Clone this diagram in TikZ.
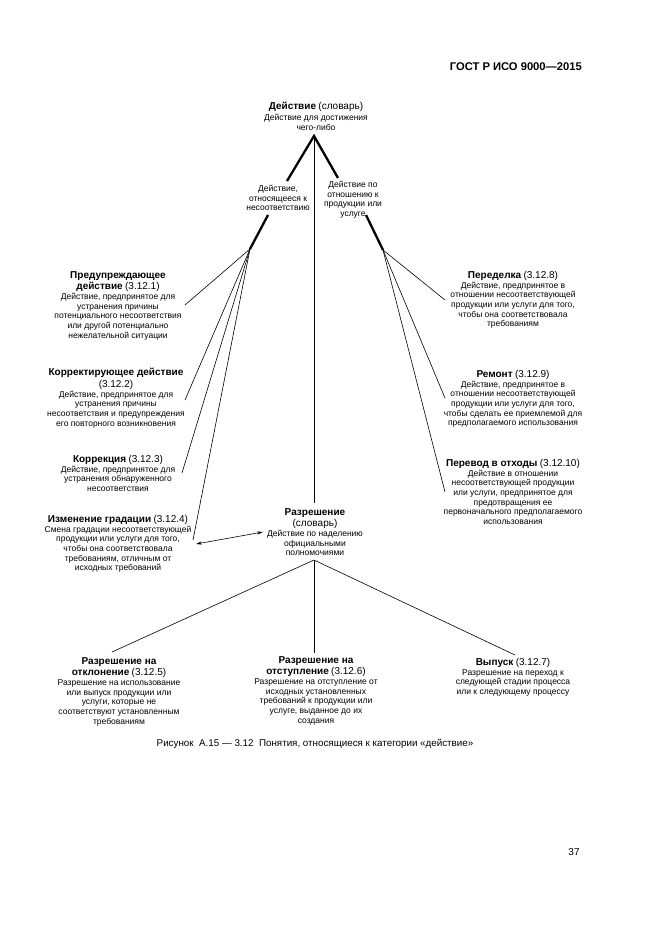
\documentclass[tikz,border=0pt]{standalone}
\usepackage{fontspec}
\setmainfont{Liberation Sans}
\usetikzlibrary{arrows.meta}
\newcommand\tb[1]{{\fontsize{10}{10}\selectfont\bfseries #1}}
\newcommand\tn[1]{{\fontsize{10}{10}\selectfont #1}}
\begin{document}
\begin{tikzpicture}[x=1pt,y=-1pt,
  txt/.style={align=center,inner sep=0pt,anchor=north,font=\fontsize{8.5}{9.7}\selectfont},
  thick line/.style={line width=2.3pt},
  thin line/.style={line width=0.6pt},
  tip/.style={-{Stealth[length=6pt,width=3.2pt]}}]
\useasboundingbox (0,0) rectangle (661,935);
\fill[white] (0,0) rectangle (661,935);
% header
\node[anchor=east,inner sep=0pt,font=\fontsize{11.2}{12}\selectfont\bfseries] (hdr) at (582,67) {ГОСТ Р ИСО 9000—2015};
% top
\node[txt] (de) at (316,102) {\tb{Действие} \tn{(словарь)}\\[1pt] Действие для достижения\\ чего-либо};
\node[txt] (ml) at (278,185) {Действие,\\ относящееся к\\ несоответствию};
\node[txt] (mr) at (353,181) {Действие по\\ отношению к\\ продукции или\\ услуге};
% left column
\node[txt] (pr) at (118,271) {\tb{Предупреждающее}\\[2pt] \tb{действие} \tn{(3.12.1)}\\ Действие, предпринятое для\\ устранения причины\\ потенциального несоответствия\\ или другой потенциально\\ нежелательной ситуации};
\node[txt] (ko) at (116,368) {\tb{Корректирующее действие}\\[2pt] \tn{(3.12.2)}\\ Действие, предпринятое для\\ устранения причины\\ несоответствия и предупреждения\\ его повторного возникновения};
\node[txt] (kc) at (118,455) {\tb{Коррекция} \tn{(3.12.3)}\\ Действие, предпринятое для\\ устранения обнаруженного\\ несоответствия};
\node[txt] (ig) at (118,515) {\tb{Изменение градации} \tn{(3.12.4)}\\ Смена градации несоответствующей\\ продукции или услуги для того,\\ чтобы она соответствовала\\ требованиям, отличным от\\ исходных требований};
% right column
\node[txt] (pd) at (513,271) {\tb{Переделка} \tn{(3.12.8)}\\ Действие, предпринятое в\\ отношении несоответствующей\\ продукции или услуги для того,\\ чтобы она соответствовала\\ требованиям};
\node[txt] (rm) at (513,370) {\tb{Ремонт} \tn{(3.12.9)}\\ Действие, предпринятое в\\ отношении несоответствующей\\ продукции или услуги для того,\\ чтобы сделать ее приемлемой для\\ предполагаемого использования};
\node[txt] (po) at (513,459) {\tb{Перевод в отходы} \tn{(3.12.10)}\\ Действие в отношении\\ несоответствующей продукции\\ или услуги, предпринятое для\\ предотвращения ее\\ первоначального предполагаемого\\ использования};
% middle
\node[txt] (rz) at (315,508) {\tb{Разрешение}\\[2pt] \tn{(словарь)}\\ Действие по наделению\\ официальными\\ полномочиями};
% bottom
\node[txt] (ot) at (119,657) {\tb{Разрешение на}\\[2pt] \tb{отклонение} \tn{(3.12.5)}\\ Разрешение на использование\\ или выпуск продукции или\\ услуги, которые не\\ соответствуют установленным\\ требованиям};
\node[txt] (os) at (316,656) {\tb{Разрешение на}\\[2pt] \tb{отступление} \tn{(3.12.6)}\\ Разрешение на отступление от\\ исходных установленных\\ требований к продукции или\\ услуге, выданное до их\\ создания};
\node[txt] (vy) at (513,658) {\tb{Выпуск} \tn{(3.12.7)}\\ Разрешение на переход к\\ следующей стадии процесса\\ или к следующему процессу};
% caption and page number
\node[inner sep=0pt,font=\fontsize{9.8}{11}\selectfont] (cap) at (315,744) {Рисунок~ А.15 — 3.12~ Понятия, относящиеся к категории «действие»};
\node[inner sep=0pt,font=\fontsize{10}{11}\selectfont] (pg) at (574,852) {37};
% coordinates
\coordinate (A) at (314,136);
\coordinate (L1) at (287,181);
\coordinate (R1) at (338,178);
\coordinate (L2) at (268,215);
\coordinate (L3) at (250,249);
\coordinate (R2) at (366,215);
\coordinate (R3) at (383,250);
\coordinate (V) at (314,503);
\coordinate (e1) at (185,305);
\coordinate (e2) at (185,400);
\coordinate (e3) at (182,473);
\coordinate (e4) at (193,540);
\coordinate (f1) at (445,300);
\coordinate (f2) at (445,398);
\coordinate (f3) at (445,492);
\coordinate (a1) at (196,544);
\coordinate (a2) at (263,532);
\coordinate (B) at (314,560);
\coordinate (b1) at (112,652);
\coordinate (b2) at (314,653);
\coordinate (b3) at (515,655);
% connectors
\draw[thick line] (L1) -- (A) -- (R1);
\draw[thick line] (L2) -- (L3);
\draw[thick line] (R2) -- (R3);
\draw[thin line] (A) -- (V);
\foreach \e in {e1,e2,e3,e4} \draw[thin line] (L3) -- (\e);
\foreach \f in {f1,f2,f3} \draw[thin line] (R3) -- (\f);
\draw[thin line,{Stealth[length=6pt,width=3.2pt]}-{Stealth[length=6pt,width=3.2pt]}] (a1) -- (a2);
\foreach \b in {b1,b2,b3} \draw[thin line] (B) -- (\b);
\end{tikzpicture}
\end{document}
